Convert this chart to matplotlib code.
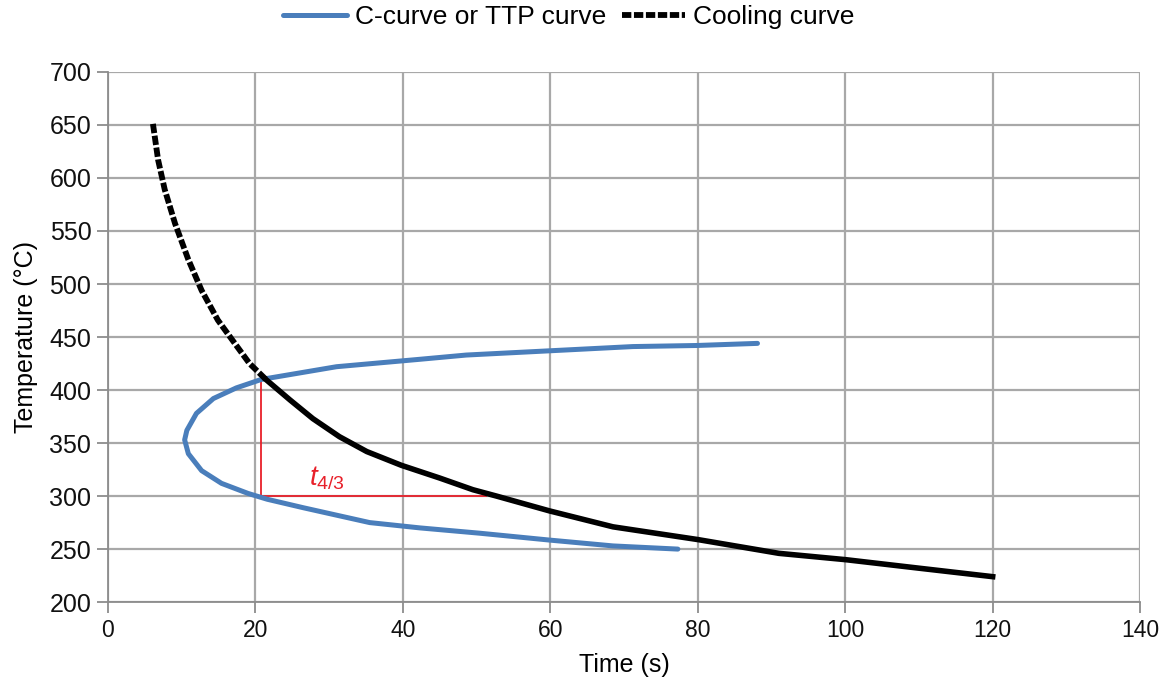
import matplotlib
matplotlib.use("Agg")
import matplotlib.pyplot as plt

plt.rcParams['font.family'] = ['Liberation Sans', 'DejaVu Sans']
plt.rcParams['mathtext.fontset'] = 'custom'
plt.rcParams['mathtext.it'] = 'Liberation Sans:italic'
plt.rcParams['mathtext.rm'] = 'Liberation Sans'

# cooling curve (time in s, temperature in degC)
cool_time = [6.1, 6.8, 7.7, 9.1, 10.9, 12.7, 14.9, 17.2, 19.2, 21.5, 24.7,
             27.8, 31.4, 35.1, 39.8, 45.0, 49.5, 52.7, 59.9, 68.5, 80.0,
             91.0, 100.1, 110.0, 120.0]
cool_temp = [651, 617, 589, 557, 523, 494, 466, 444, 425, 409.5, 390.6,
             373, 356, 342, 329, 317, 306, 300, 286, 271, 259,
             246, 240, 232, 224]
# part of the cooling curve that is drawn dotted
dotted_until = 21.5

# C-curve (TTP curve), upper branch right->nose, then lower branch nose->right
c_time = [88.1, 79.8, 71.2, 59.9, 48.6, 42.3, 31.0, 20.8, 17.4, 14.3, 12.0,
          10.7, 10.4, 10.9, 12.7, 15.4, 19.0, 21.6, 26.5, 35.5, 42.3, 50.4,
          59.9, 68.5, 77.3]
c_temp = [444, 442, 441, 437, 433, 429, 422, 410, 402, 392, 378,
          362, 353, 340, 324, 312, 302.5, 297, 289, 275, 270, 265,
          258.5, 253, 250]

# t_4/3 marker
t4_time, t3_time = 20.7, 51.3
t4_temp, t3_temp = 412.5, 300

x_ticks = [0, 20, 40, 60, 80, 100, 120, 140]
y_ticks = [200, 250, 300, 350, 400, 450, 500, 550, 600, 650, 700]

blue = '#4a7ebb'
red = '#e8202a'

fig = plt.figure(figsize=(11.61, 6.85), dpi=100)
ax = fig.add_axes([0.093, 0.121, 0.889, 0.774])

ax.set_xlim(0, 140)
ax.set_ylim(200, 700)
ax.set_xticks(x_ticks)
ax.set_yticks(y_ticks)
ax.grid(True, color='#a8a8a8', linewidth=1.6)
ax.set_axisbelow(True)
for side in ['top', 'right']:
    ax.spines[side].set_visible(False)
for side in ['left', 'bottom']:
    ax.spines[side].set_color('#8c8c8c')
    ax.spines[side].set_linewidth(1.3)
ax.tick_params(axis='both', direction='out', length=8, width=1.3,
               color='#8c8c8c', labelsize=18, labelcolor='#111111', pad=4)
ax.tick_params(axis='x', labelsize=16.5)

# red t_4/3 lines
ax.plot([t4_time, t4_time], [t3_temp, t4_temp], color=red, linewidth=1.3, zorder=2)
ax.plot([t4_time, t3_time], [t3_temp, t3_temp], color=red, linewidth=1.3, zorder=2)
ax.text(27.2, 310, r'$\mathit{t}_{\mathit{4/3}}$', color=red, fontsize=20,
        va='baseline')

# curves
ax.plot(c_time, c_temp, color=blue, linewidth=3.6, solid_capstyle='round',
        solid_joinstyle='round', label='C-curve or TTP curve', zorder=3)

n_dot = cool_time.index(dotted_until) + 1
ax.plot(cool_time[:n_dot], cool_temp[:n_dot], color='black', linewidth=4.2,
        linestyle=(0, (1.6, 0.45)), label='Cooling curve', zorder=4)
ax.plot(cool_time[n_dot - 1:], cool_temp[n_dot - 1:], color='black',
        linewidth=4.0, solid_joinstyle='round', zorder=4)

ax.set_xlabel('Time (s)', fontsize=18, labelpad=8)
ax.set_ylabel('Temperature (°C)', fontsize=18, labelpad=8)

fig.legend(loc='center', bbox_to_anchor=(0.49, 0.975), ncol=2,
           frameon=False, fontsize=19, handlelength=2.4, columnspacing=0.6,
           handletextpad=0.3)

fig.savefig('out.png', dpi=100)
